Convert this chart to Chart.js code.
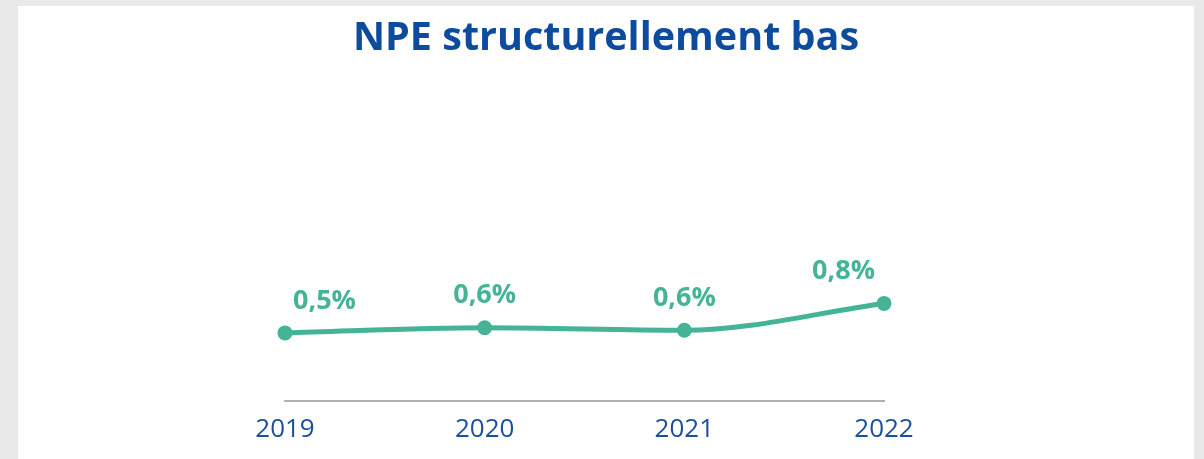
<!DOCTYPE html>
<html>
<head>
<meta charset="utf-8">
<script src="https://cdn.jsdelivr.net/npm/chart.js@4"></script>
<style>
  html, body { margin: 0; padding: 0; }
  body { background: #e9e9e9; width: 1204px; height: 459px; overflow: hidden; position: relative; }
  #card { position: absolute; left: 18px; top: 6px; width: 1176px; height: 460px; background: #fff; }
  #wrap { position: absolute; left: 0; top: 0; width: 1176px; height: 453px; }
</style>
</head>
<body>
<div id="card"><div id="wrap"><canvas id="npeChart"></canvas></div></div>
<script>
// values
const years = ["2019", "2020", "2021", "2022"];
const npeRatio = [0.53, 0.57, 0.55, 0.76];
const npeLabels = ["0,5%", "0,6%", "0,6%", "0,8%"];
const chartTitle = "NPE structurellement bas";

const green = "#45b396";
const blue = "#0d4c9c";

// title centred on the whole card, not on the padded plot
const cardTitle = {
  id: "cardTitle",
  afterDraw(chart) {
    const ctx = chart.ctx;
    ctx.save();
    ctx.font = "bold 39.5px 'Open Sans'";
    ctx.fillStyle = blue;
    ctx.textAlign = "center";
    ctx.textBaseline = "middle";
    ctx.fillText(chartTitle, chart.width / 2, 33);
    ctx.restore();
  }
};

// draws the percentage above each point, kept inside the plot area
const pointLabels = {
  id: "pointLabels",
  afterDatasetsDraw(chart) {
    const ctx = chart.ctx;
    const area = chart.chartArea;
    const meta = chart.getDatasetMeta(0);
    ctx.save();
    ctx.font = "bold 27px 'Open Sans'";
    ctx.fillStyle = green;
    ctx.textBaseline = "middle";
    ctx.textAlign = "left";
    meta.data.forEach((pt, i) => {
      const txt = npeLabels[i];
      const w = ctx.measureText(txt).width;
      let x = pt.x - w / 2;
      x = Math.max(area.left + 8, Math.min(x, area.right - 9 - w));
      ctx.fillText(txt, x, pt.y - 32);
    });
    ctx.restore();
  }
};

new Chart(document.getElementById("npeChart"), {
  type: "line",
  data: {
    labels: years,
    datasets: [{
      data: npeRatio,
      borderColor: green,
      backgroundColor: green,
      borderWidth: 5,
      pointRadius: 7.5,
      pointHoverRadius: 7.5,
      pointBorderWidth: 0,
      cubicInterpolationMode: "monotone",
      clip: false
    }]
  },
  options: {
    responsive: true,
    maintainAspectRatio: false,
    animation: false,
    layout: { padding: { left: 267, right: 310, top: 68, bottom: 1 } },
    plugins: {
      legend: { display: false },
      tooltip: { enabled: false },
      title: { display: false }
    },
    scales: {
      x: {
        offset: false,
        grid: { display: false, drawTicks: false },
        border: { display: true, color: "#b0b0b0", width: 2 },
        ticks: {
          color: "#1a4f9c",
          font: { family: "'Open Sans'", size: 26 },
          padding: 13,
          maxRotation: 0
        }
      },
      y: {
        display: false,
        min: 0,
        max: 2.55
      }
    }
  },
  plugins: [pointLabels, cardTitle]
});
</script>
</body>
</html>
